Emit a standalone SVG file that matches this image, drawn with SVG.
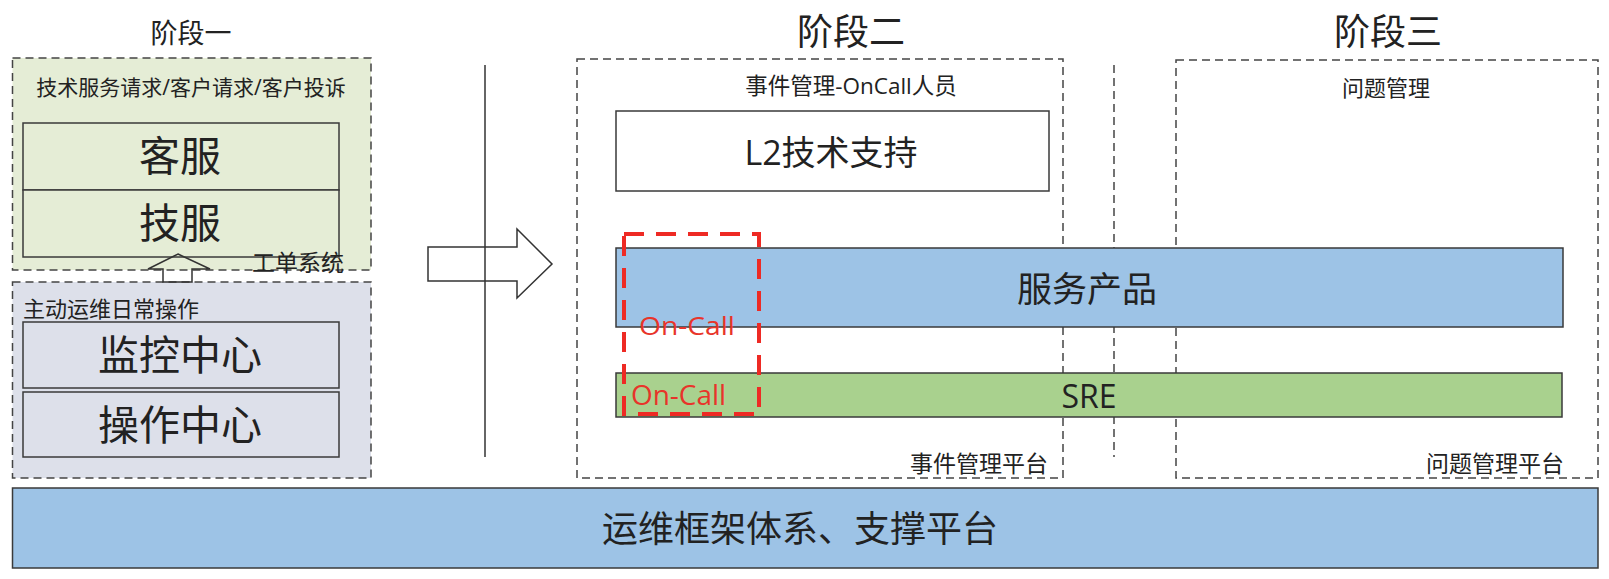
<svg xmlns="http://www.w3.org/2000/svg" width="1609" height="579" viewBox="0 0 1609 579">
<style>
text{font-family:"Open Sans","Noto Sans CJK SC",sans-serif;fill:#222;dominant-baseline:central;text-anchor:middle}
.dash{stroke:#444;stroke-width:1.5;stroke-dasharray:8 5}
.box{stroke:#3a3a3a;stroke-width:1.5}
.small{font-size:22px}
.big{font-size:41px}
.title{font-size:36px}
.oc{fill:#e8342a;text-anchor:start;dominant-baseline:alphabetic}
</style>
<rect width="1609" height="579" fill="#fff"/>

<g id="stage-titles">
<text x="191" y="32" style="font-size:27px">阶段一</text>
<text x="851" y="31" class="title">阶段二</text>
<text x="1388" y="31" class="title">阶段三</text>
</g>

<g id="stage1-requests">
<rect x="12.5" y="58" width="358.5" height="212" style="fill:#e5edd6" class="dash"/>
<text x="191" y="87" style="font-size:21px">技术服务请求/客户请求/客户投诉</text>
</g>
<g id="kefu">
<rect x="23" y="123" width="316" height="67" fill="#e5edd6" class="box"/>
<text x="180" y="155" class="big">客服</text>
</g>
<g id="jifu">
<rect x="23" y="190" width="316" height="67" fill="#e5edd6" class="box"/>
<text x="180" y="222" class="big">技服</text>
</g>

<g id="stage1-ops">
<rect x="12.5" y="282" width="358.5" height="196" style="fill:#dde0ea" class="dash"/>
<text x="23" y="308" class="small" style="text-anchor:start">主动运维日常操作</text>
</g>
<g id="jiankong">
<rect x="23" y="322" width="316" height="66" fill="#dde0ea" class="box"/>
<text x="180" y="354" class="big">监控中心</text>
</g>
<g id="caozuo">
<rect x="23" y="392" width="316" height="65" fill="#dde0ea" class="box"/>
<text x="180" y="424" class="big">操作中心</text>
</g>

<g id="stage2">
<rect x="577" y="59" width="486" height="419" style="fill:none" class="dash"/>
<text x="851" y="85" style="font-size:22.5px">事件管理-OnCall人员</text>
<text x="1048" y="463" style="font-size:23px;text-anchor:end">事件管理平台</text>
</g>
<g id="stage3">
<rect x="1176" y="60" width="422" height="418" style="fill:none" class="dash"/>
<line x1="1114" y1="65" x2="1114" y2="457" class="dash"/>
<text x="1386" y="87" class="small">问题管理</text>
<text x="1564" y="463" style="font-size:23px;text-anchor:end">问题管理平台</text>
</g>

<g id="l2">
<rect x="616" y="111" width="433" height="80" fill="#fff" class="box"/>
<text x="831" y="152" style="font-size:34px">L2技术支持</text>
</g>
<g id="service-product">
<rect x="616" y="248" width="947" height="79" fill="#9dc3e6" class="box"/>
<text x="1087" y="288" style="font-size:35px">服务产品</text>
</g>
<g id="sre">
<rect x="616" y="373" width="946" height="44" fill="#a9d18e" class="box"/>
<text x="1089" y="395" style="font-size:32px">SRE</text>
</g>

<g id="foundation">
<rect x="12.5" y="488" width="1585.5" height="80" fill="#9dc3e6" class="box"/>
<text x="800" y="528" style="font-size:36px">运维框架体系、支撑平台</text>
</g>

<g id="oncall">
<rect x="624" y="234" width="135" height="180" fill="none" stroke="#ee2a24" stroke-width="4" stroke-dasharray="20 12"/>
<text x="639" y="335" class="oc" style="font-size:26px" textLength="96" lengthAdjust="spacingAndGlyphs">On-Call</text>
<text x="631" y="405" class="oc" style="font-size:27px" textLength="95" lengthAdjust="spacingAndGlyphs">On-Call</text>
</g>

<g id="connectors" fill="none" stroke="#333" stroke-width="1.5" stroke-linejoin="miter">
<polygon points="178,254 210,269 192,269 192,282 163,282 163,269 148,269"/>
<text x="298" y="262" style="stroke:none;font-size:23px">工单系统</text>
<polygon points="428,247 517,247 517,229 552,264 517,298 517,281 428,281" fill="#fff"/>
<line x1="485" y1="65" x2="485" y2="457"/>
</g>
</svg>
